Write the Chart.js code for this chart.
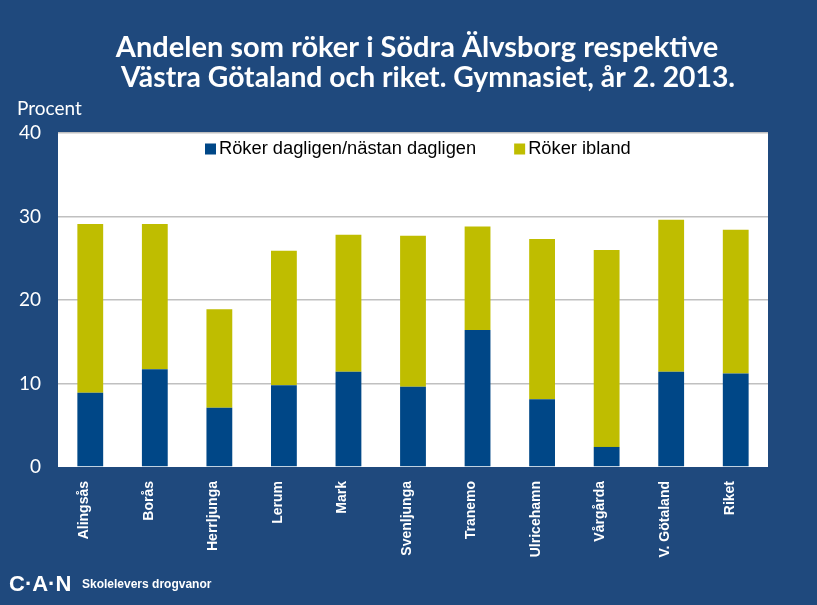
<!DOCTYPE html>
<html>
<head>
<meta charset="utf-8">
<script src="https://cdn.jsdelivr.net/npm/chart.js@4/dist/chart.umd.min.js"></script>
<style>
  html, body { margin: 0; padding: 0; background: #1f497d; }
  #wrap { position: relative; width: 817px; height: 605px; }
</style>
</head>
<body>
<div id="wrap"><canvas id="chart"></canvas></div>
<script>
// kommuner / områden
const categories = ['Alingsås', 'Borås', 'Herrljunga', 'Lerum', 'Mark', 'Svenljunga',
  'Tranemo', 'Ulricehamn', 'Vårgårda', 'V. Götaland', 'Riket'];
// röker dagligen/nästan dagligen (%)
const dagligen = [8.9, 11.7, 7.1, 9.8, 11.4, 9.6, 16.4, 8.1, 2.4, 11.4, 11.2];
// röker ibland (%)
const ibland = [20.2, 17.4, 11.8, 16.1, 16.4, 18.1, 12.4, 19.2, 23.6, 18.2, 17.2];
const yTicks = [0, 10, 20, 30, 40];

const titleLines = ['Andelen som röker i Södra Älvsborg respektive',
  'Västra Götaland och riket. Gymnasiet, år 2. 2013.'];

const ARIAL = '"Liberation Sans", Arial, sans-serif';

// vit plotyta, legend i plotytan, titel, "Procent" och sidfot
const decorPlugin = {
  id: 'decor',
  beforeDraw(chart) {
    const { ctx, chartArea: a } = chart;
    ctx.save();
    ctx.fillStyle = '#ffffff';
    ctx.fillRect(a.left, a.top, a.right - a.left, a.bottom - a.top);
    ctx.restore();
  },
  afterDraw(chart) {
    const ctx = chart.ctx;
    ctx.save();

    // legend (ritas själv för att ligga på en rad inne i plotytan)
    ctx.font = '18.3px ' + ARIAL;
    ctx.textAlign = 'left';
    ctx.textBaseline = 'middle';
    let x = 205;
    const ly = 149;
    chart.data.datasets.forEach(ds => {
      ctx.fillStyle = ds.backgroundColor;
      ctx.fillRect(x, ly - 5.5, 11, 11);
      ctx.fillStyle = '#000000';
      ctx.fillText(ds.label, x + 14, ly);
      x += 14 + ctx.measureText(ds.label).width + 38;
    });

    ctx.fillStyle = '#ffffff';
    ctx.textAlign = 'center';
    ctx.textBaseline = 'alphabetic';
    ctx.font = 'bold 29px Lato, sans-serif';
    ctx.fillText(titleLines[0], 417, 57);
    ctx.font = 'bold 28.3px Lato, sans-serif';
    ctx.fillText(titleLines[1], 428, 87);

    ctx.textAlign = 'left';
    ctx.font = '19px Lato, sans-serif';
    ctx.fillText('Procent', 17, 115);

    ctx.font = 'bold 22px ' + ARIAL;
    ctx.fillText('C·A·N', 9, 591);
    ctx.font = 'bold 12px ' + ARIAL;
    ctx.fillText('Skolelevers drogvanor', 82, 588);
    ctx.restore();
  }
};

new Chart(document.getElementById('chart'), {
  type: 'bar',
  data: {
    labels: categories,
    datasets: [
      { label: 'Röker dagligen/nästan dagligen', data: dagligen, backgroundColor: '#004787' },
      { label: 'Röker ibland', data: ibland, backgroundColor: '#bfbd00' }
    ]
  },
  plugins: [decorPlugin],
  options: {
    responsive: true,
    maintainAspectRatio: false,
    animation: false,
    datasets: { bar: { categoryPercentage: 0.8, barPercentage: 0.5 } },
    layout: { padding: { top: 133, right: 49, left: 0, bottom: 0 } },
    plugins: {
      legend: { display: false },
      tooltip: { enabled: false }
    },
    scales: {
      x: {
        stacked: true,
        afterFit(scale) { scale.height = 138; },
        grid: { display: false },
        border: { display: false },
        ticks: {
          color: '#ffffff',
          minRotation: 90,
          maxRotation: 90,
          padding: 6,
          labelOffset: -6,
          font: { size: 14, weight: 'bold', family: ARIAL }
        }
      },
      y: {
        stacked: true,
        min: 0,
        max: 40,
        afterFit(scale) { scale.width = 58; },
        afterBuildTicks(scale) { scale.ticks = yTicks.map(v => ({ value: v })); },
        border: { display: false },
        grid: {
          color: c => (c.tick && c.tick.value === 0 ? 'rgba(0,0,0,0)' : '#c0c0c0'),
          lineWidth: 1.5,
          drawTicks: false
        },
        ticks: {
          color: '#ffffff',
          padding: 17,
          font: { size: 19, family: 'Lato, sans-serif' }
        }
      }
    }
  }
});
</script>
</body>
</html>
